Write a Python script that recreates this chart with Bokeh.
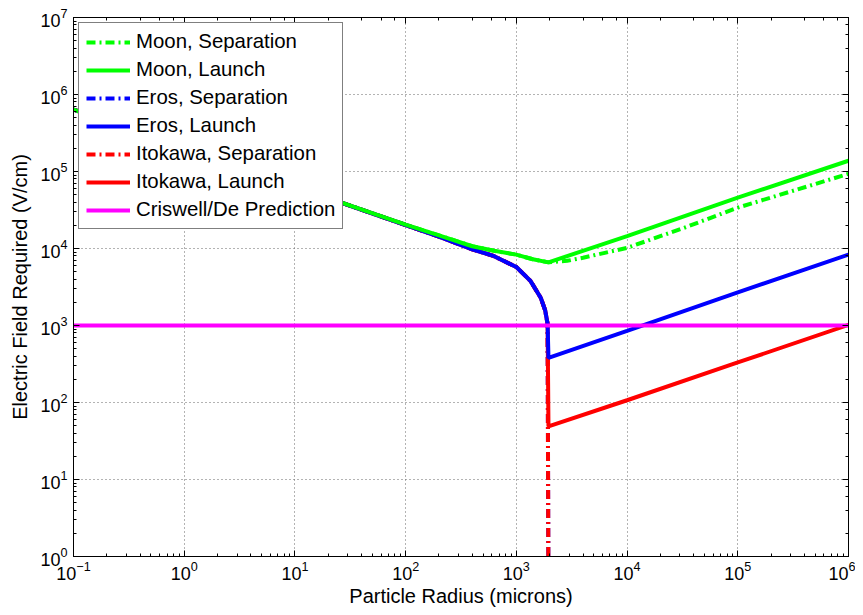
from bokeh.plotting import figure
from bokeh.models import LogAxis, Legend, LegendItem, Range1d, CustomJSTickFormatter
from bokeh.embed import file_html
from bokeh.resources import INLINE

# ---- data (radius in microns, field in V/cm) ----
r_moon_launch = [0.1, 1, 10, 100, 200, 400, 630, 1000, 1410, 1950, 1e4, 1e5, 1e6]
e_moon_launch = [638000, 202000, 63800, 20400, 14800, 10700, 9330, 8320, 7240, 6610, 14500, 45700, 138000]

r_moon_sep = [0.1, 1, 10, 100, 200, 400, 630, 1000, 1410, 1950, 2880, 4000, 1e4, 31600, 1e5, 316000, 1e6]
e_moon_sep = [638000, 202000, 63800, 20400, 14800, 10700, 9330, 8320, 7240, 6610, 6920, 7590, 10200, 18200, 33900, 56200, 93300]

r_eros_launch = [0.1, 1, 10, 100, 200, 400, 630, 1000, 1340, 1660, 1820, 1915, 1950, 1e4, 1e5, 1e6]
e_eros_launch = [638000, 202000, 63800, 20200, 14300, 9770, 7940, 5750, 3800, 2290, 1580, 1050, 380, 851, 2690, 8320]

r_eros_sep = [0.1, 1, 10, 100, 200, 400, 630, 1000, 1340, 1660, 1820, 1915, 1950]
e_eros_sep = [638000, 202000, 63800, 20200, 14300, 9770, 7940, 5750, 3800, 2290, 1580, 1050, 0.3]

r_itokawa_launch = [0.1, 1, 10, 100, 200, 400, 630, 1000, 1340, 1660, 1820, 1915, 1950, 1e4, 1e5, 1e6]
e_itokawa_launch = [638000, 202000, 63800, 20200, 14300, 9770, 7940, 5750, 3800, 2290, 1580, 1050, 49, 107, 331, 1020]

r_itokawa_sep = [0.1, 1, 10, 100, 200, 400, 630, 1000, 1340, 1660, 1820, 1915, 1950]
e_itokawa_sep = [638000, 202000, 63800, 20200, 14300, 9770, 7940, 5750, 3800, 2290, 1580, 1050, 0.3]

r_criswell = [0.1, 1e6]
e_criswell = [1000, 1000]

labels = ["Moon, Separation", "Moon, Launch", "Eros, Separation", "Eros, Launch",
          "Itokawa, Separation", "Itokawa, Launch", "Criswell/De Prediction"]

FONT = "Liberation Sans"
GREEN, BLUE, RED, MAGENTA = "#00FF00", "#0000FF", "#FF0000", "#FF00FF"
LW = 4
DASHDOT = "9 4 2 4"

p = figure(frame_width=775, frame_height=539, x_axis_type="log", y_axis_type="log",
           x_range=Range1d(0.1, 1e6), y_range=Range1d(1, 1e7),
           output_backend="svg", toolbar_location=None,
           min_border_left=73, min_border_right=7, min_border_top=17, min_border_bottom=51,
           background_fill_color="white", border_fill_color="white")

# draw order: separations first, then launches (Itokawa, Eros, Moon), then prediction
r_ms = p.line(r_moon_sep, e_moon_sep, line_color=GREEN, line_width=LW, line_dash=DASHDOT)
r_es = p.line(r_eros_sep, e_eros_sep, line_color=BLUE, line_width=LW, line_dash=DASHDOT)
r_is = p.line(r_itokawa_sep, e_itokawa_sep, line_color=RED, line_width=LW, line_dash=DASHDOT)
r_il = p.line(r_itokawa_launch, e_itokawa_launch, line_color=RED, line_width=LW)
r_el = p.line(r_eros_launch, e_eros_launch, line_color=BLUE, line_width=LW)
r_ml = p.line(r_moon_launch, e_moon_launch, line_color=GREEN, line_width=LW)
r_cr = p.line(r_criswell, e_criswell, line_color=MAGENTA, line_width=LW)

legend = Legend(items=[
    LegendItem(label=labels[0], renderers=[r_ms]),
    LegendItem(label=labels[1], renderers=[r_ml]),
    LegendItem(label=labels[2], renderers=[r_es]),
    LegendItem(label=labels[3], renderers=[r_el]),
    LegendItem(label=labels[4], renderers=[r_is]),
    LegendItem(label=labels[5], renderers=[r_il]),
    LegendItem(label=labels[6], renderers=[r_cr]),
], location="top_left")
legend.margin = 5
legend.padding = 7
legend.spacing = 5
legend.label_height = 20
legend.glyph_height = 20
legend.glyph_width = 44
legend.label_standoff = 6
legend.label_text_font = FONT
legend.label_text_font_size = "20.4px"
legend.label_text_color = "black"
legend.border_line_color = "black"
legend.border_line_width = 1
legend.background_fill_color = "white"
legend.background_fill_alpha = 1.0
p.add_layout(legend)

# axes
for ax in (p.xaxis[0], p.yaxis[0]):
    ax.major_tick_in = 6
    ax.major_tick_out = 0
    ax.minor_tick_in = 3
    ax.minor_tick_out = 0
    ax.axis_line_color = "black"
    ax.major_tick_line_color = "black"
    ax.minor_tick_line_color = "black"
    ax.major_label_text_font = FONT
    ax.major_label_text_font_size = "18px"
    ax.major_label_text_color = "black"
    ax.axis_label_text_font = FONT
    ax.axis_label_text_font_size = "20px"
    ax.axis_label_text_font_style = "normal"
    ax.axis_label_text_color = "black"

p.xaxis.axis_label = "Particle Radius (microns)"
p.yaxis.axis_label = "Electric Field Required (V/cm)"
p.xaxis.major_label_standoff = 4
p.yaxis.major_label_standoff = 6
p.xaxis.axis_label_standoff = 2
p.yaxis.axis_label_standoff = 6

blank = CustomJSTickFormatter(code="return '';")
for side in ("right", "above"):
    ax = LogAxis(major_tick_in=6, major_tick_out=0, minor_tick_in=3, minor_tick_out=0,
                 formatter=blank, major_label_standoff=0,
                 axis_line_color="black")
    p.add_layout(ax, side)

p.outline_line_color = "black"
p.xgrid.grid_line_color = "#666666"
p.ygrid.grid_line_color = "#666666"
p.xgrid.grid_line_dash = "1 3"
p.ygrid.grid_line_dash = "1 3"
p.xgrid.grid_line_width = 1
p.ygrid.grid_line_width = 1

open("out.html", "w").write(file_html(p, INLINE))
